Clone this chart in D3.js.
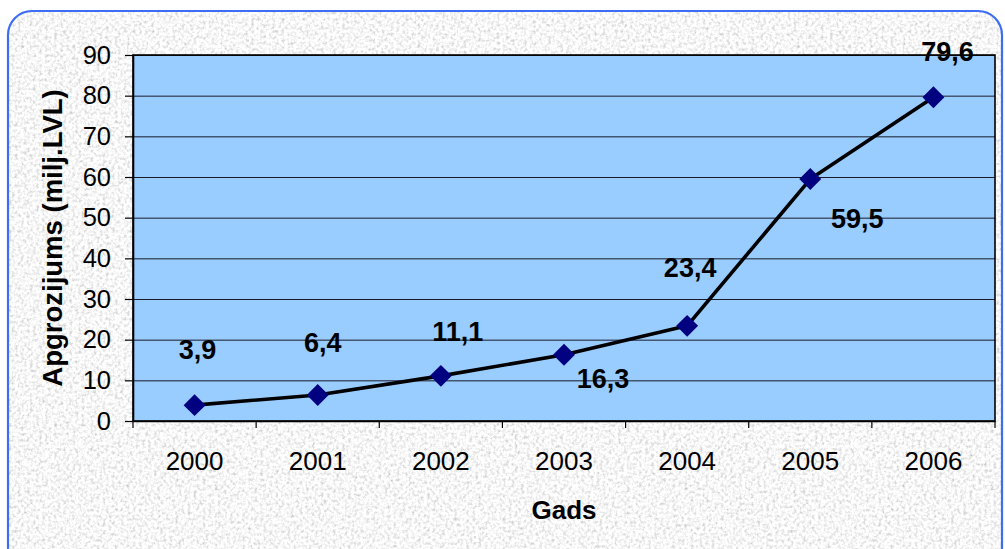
<!DOCTYPE html>
<html>
<head>
<meta charset="utf-8">
<script src="https://cdn.jsdelivr.net/npm/d3@7"></script>
<style>
  body { margin: 0; background: #fff; }
  svg { display: block; }
</style>
</head>
<body>
<div id="graphContainer"></div>
<script>
// chart values
var years = ["2000", "2001", "2002", "2003", "2004", "2005", "2006"];
var turnover = [3.9, 6.4, 11.1, 16.3, 23.4, 59.5, 79.6];
var yTicks = [0, 10, 20, 30, 40, 50, 60, 70, 80, 90];

// label placement relative to each marker (hand-placed like in the original)
var labelOffsets = [[3, -46], [5, -43], [17, -35], [39, 33], [3, -49], [47, 49], [14, -36]];

var W = 1005, H = 549;
var plotL = 133, plotT = 55, plotR = 995, plotB = 421;

var svg = d3.select("#graphContainer")
  .append("svg")
  .attr("width", W)
  .attr("height", H);

var defs = svg.append("defs");
var f = defs.append("filter")
  .attr("id", "granite")
  .attr("x", 0).attr("y", 0).attr("width", "100%").attr("height", "100%");
f.append("feTurbulence")
  .attr("type", "fractalNoise")
  .attr("baseFrequency", 0.33)
  .attr("numOctaves", 3)
  .attr("seed", 7);
f.append("feColorMatrix").attr("type", "saturate").attr("values", 0);
var ct = f.append("feComponentTransfer");
["R", "G", "B"].forEach(function(c) {
  ct.append("feFunc" + c).attr("type", "linear").attr("slope", 1.15).attr("intercept", 0.36);
});
ct.append("feFuncA").attr("type", "linear").attr("slope", 0).attr("intercept", 1);

defs.append("clipPath").attr("id", "frameClip")
  .append("rect")
  .attr("x", 8).attr("y", 11).attr("width", 994).attr("height", 560)
  .attr("rx", 24).attr("ry", 24);

// textured chart background
svg.append("rect")
  .attr("x", 0).attr("y", 0).attr("width", W).attr("height", H)
  .attr("filter", "url(#granite)")
  .attr("clip-path", "url(#frameClip)");

svg.append("rect")
  .attr("x", 8).attr("y", 11).attr("width", 994).attr("height", 560)
  .attr("rx", 24).attr("ry", 24)
  .attr("fill", "none")
  .attr("stroke", "#3d6cf5")
  .attr("stroke-width", 2.2);

var xScale = d3.scaleBand()
  .domain(years)
  .range([plotL, plotR]);

var yScale = d3.scaleLinear()
  .domain([0, 90])
  .range([plotB, plotT]);

// plot area
svg.append("rect")
  .attr("x", plotL).attr("y", plotT)
  .attr("width", plotR - plotL).attr("height", plotB - plotT)
  .attr("fill", "#99ccff");

// gridlines
svg.append("g")
  .selectAll("line")
  .data(yTicks.slice(1))
  .join("line")
  .attr("x1", plotL).attr("x2", plotR)
  .attr("y1", function(d) { return yScale(d) + 0.5; })
  .attr("y2", function(d) { return yScale(d) + 0.5; })
  .attr("stroke", "#1a1a2a")
  .attr("stroke-width", 1);

svg.append("rect")
  .attr("x", plotL).attr("y", plotT)
  .attr("width", plotR - plotL).attr("height", plotB - plotT)
  .attr("fill", "none")
  .attr("stroke", "#000")
  .attr("stroke-width", 1.6);

// y axis
var y = d3.axisLeft(yScale).tickValues(yTicks).tickSize(8).tickSizeOuter(0).tickPadding(14);
var gy = svg.append("g")
  .attr("id", "y-axis")
  .attr("transform", `translate(${plotL}, 0)`)
  .call(y);
gy.select(".domain").attr("stroke", "#000").attr("stroke-width", 1.6);
gy.selectAll(".tick line").attr("stroke", "#000").attr("stroke-width", 1.2);
gy.selectAll(".tick text")
  .attr("font-family", "Arial, 'Liberation Sans', sans-serif")
  .attr("font-size", 25.5)
  .attr("fill", "#000");

// x axis: labels centred in band, ticks on band edges
var x = d3.axisBottom(xScale).tickSize(0).tickPadding(49);
var gx = svg.append("g")
  .attr("id", "x-axis")
  .attr("transform", `translate(0, ${plotB})`)
  .call(x);
gx.select(".domain").attr("stroke", "#000").attr("stroke-width", 1.6);
gx.selectAll(".tick text")
  .attr("font-family", "Arial, 'Liberation Sans', sans-serif")
  .attr("font-size", 26)
  .attr("fill", "#000")
  .attr("dy", 0);

var edges = years.map(function(d) { return xScale(d); }).concat([plotR]);
svg.append("g")
  .selectAll("line")
  .data(edges)
  .join("line")
  .attr("x1", function(d) { return d; })
  .attr("x2", function(d) { return d; })
  .attr("y1", plotB)
  .attr("y2", plotB + 7)
  .attr("stroke", "#000")
  .attr("stroke-width", 1.2);

// line series
var cx = function(d, i) { return xScale(years[i]) + xScale.bandwidth() / 2; };
var line = d3.line()
  .x(cx)
  .y(function(d) { return yScale(d); });

svg.append("path")
  .datum(turnover)
  .attr("d", line)
  .attr("fill", "none")
  .attr("stroke", "#000")
  .attr("stroke-width", 3.6)
  .attr("stroke-linejoin", "round");

svg.append("g")
  .selectAll("path")
  .data(turnover)
  .join("path")
  .attr("d", d3.symbol().type(d3.symbolSquare).size(240))
  .attr("transform", function(d, i) {
    return `translate(${cx(d, i)}, ${yScale(d)}) rotate(45)`;
  })
  .attr("fill", "#000080");

// data labels
svg.append("g")
  .selectAll("text")
  .data(turnover)
  .join("text")
  .attr("x", function(d, i) { return cx(d, i) + labelOffsets[i][0]; })
  .attr("y", function(d, i) { return yScale(d) + labelOffsets[i][1]; })
  .attr("text-anchor", "middle")
  .attr("font-family", "Arial, 'Liberation Sans', sans-serif")
  .attr("font-weight", "bold")
  .attr("font-size", 27)
  .attr("fill", "#000")
  .text(function(d) { return String(d).replace(".", ","); });

// axis titles
svg.append("text")
  .attr("x", (plotL + plotR) / 2)
  .attr("y", 519)
  .attr("text-anchor", "middle")
  .attr("font-family", "Arial, 'Liberation Sans', sans-serif")
  .attr("font-weight", "bold")
  .attr("font-size", 26)
  .text("Gads");

svg.append("text")
  .attr("transform", `translate(62, ${(plotT + plotB) / 2}) rotate(-90)`)
  .attr("text-anchor", "middle")
  .attr("font-family", "Arial, 'Liberation Sans', sans-serif")
  .attr("font-weight", "bold")
  .attr("font-size", 27.5)
  .text("Apgrozijums (milj.LVL)");
</script>
</body>
</html>
